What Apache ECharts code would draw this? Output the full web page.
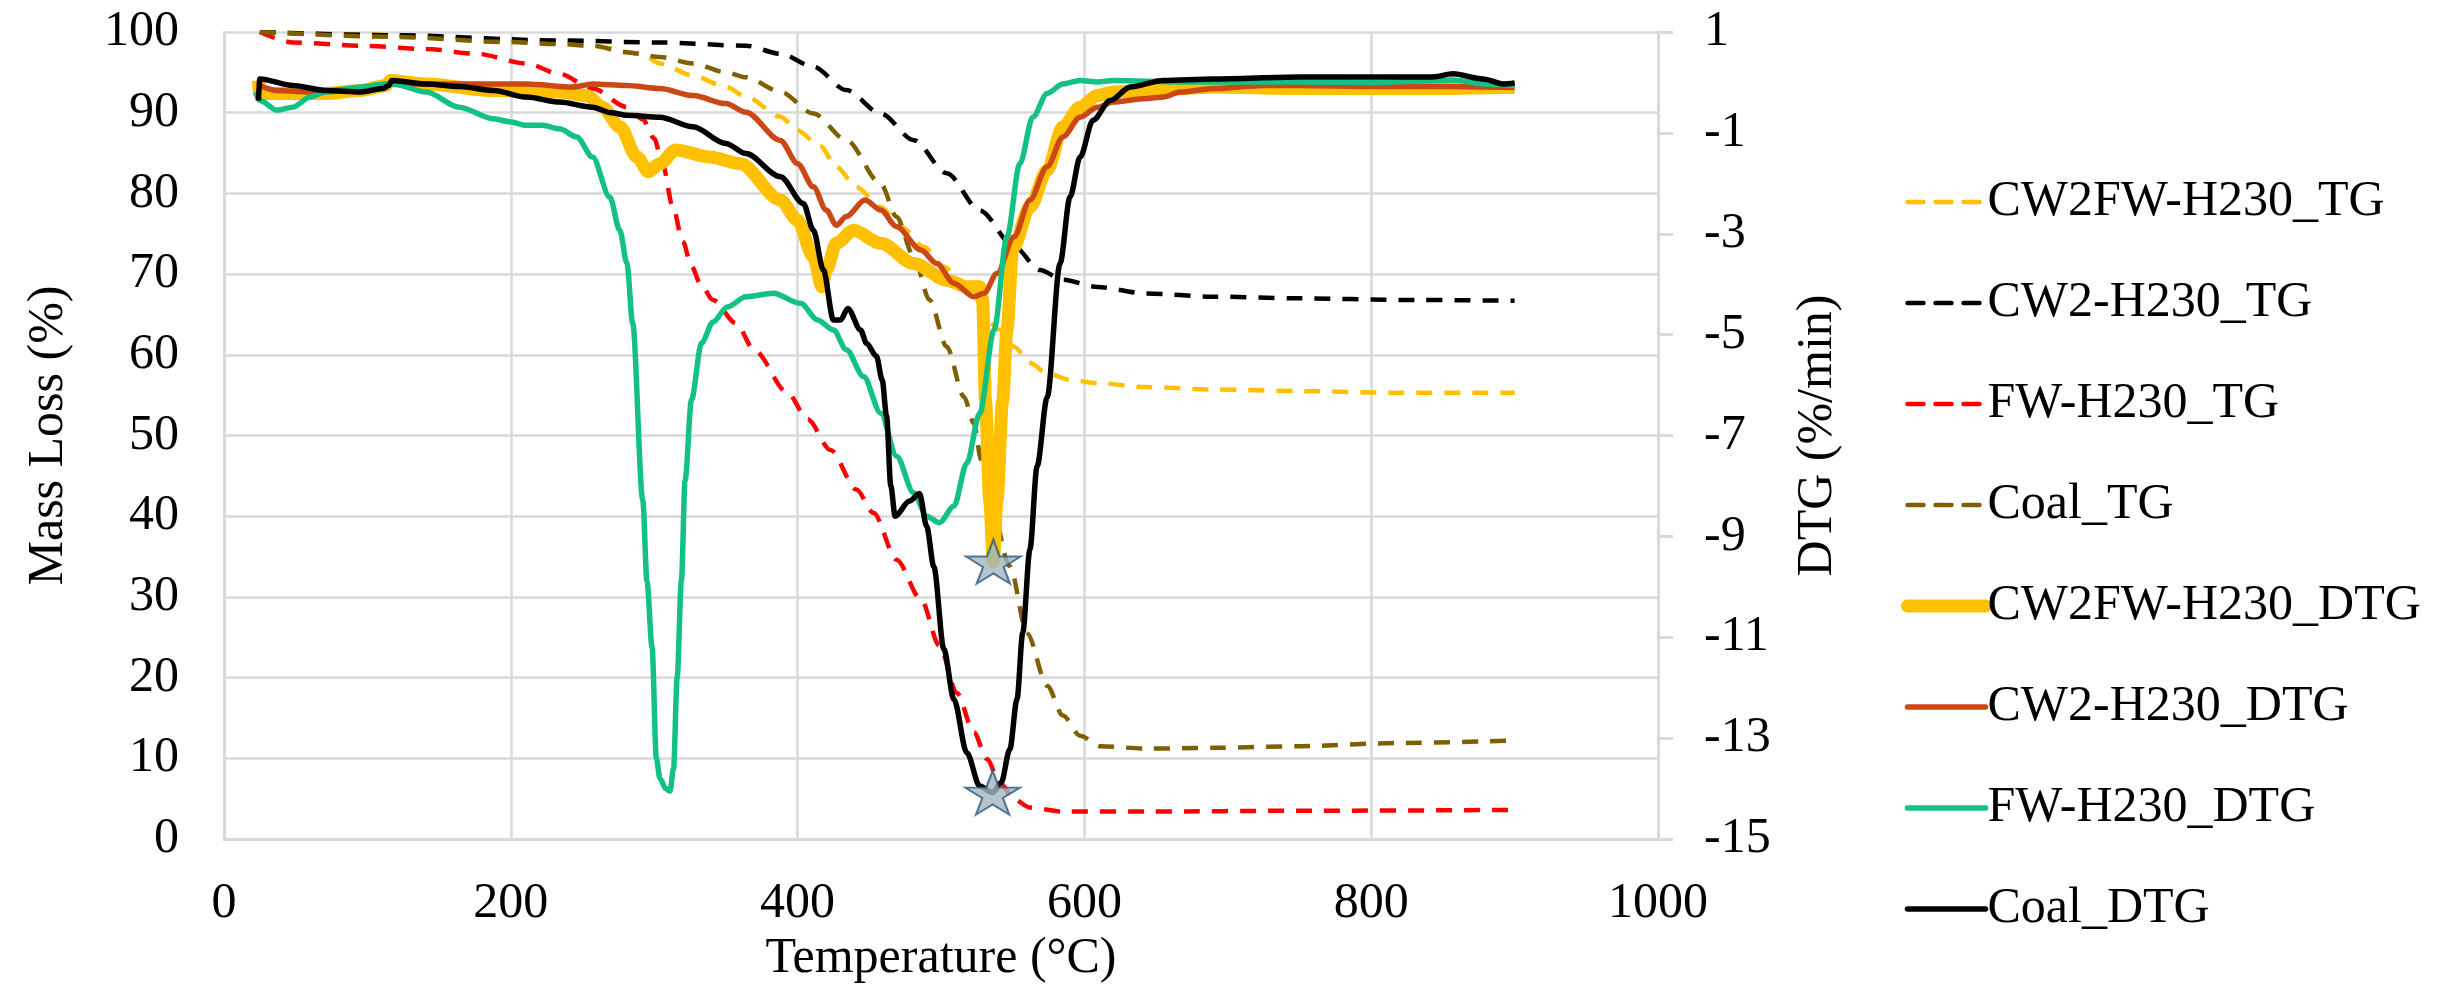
<!DOCTYPE html>
<html>
<head>
<meta charset="utf-8">
<title>TG / DTG</title>
<script src="https://cdn.jsdelivr.net/npm/echarts@6/dist/echarts.min.js"></script>
<style>
  html, body { margin: 0; padding: 0; background: #fff; }
  #chart { width: 2453px; height: 989px; }
</style>
</head>
<body>
<div id="chart"></div>
<script>
// axis ranges [min, max, step]
var tempAxis = [0, 1000, 200]
var massAxis = [0, 100, 10]
var dtgAxis = [-15, 1, 2]

var seriesNames = ['CW2FW-H230_TG', 'CW2-H230_TG', 'FW-H230_TG', 'Coal_TG',
  'CW2FW-H230_DTG', 'CW2-H230_DTG', 'FW-H230_DTG', 'Coal_DTG']

// TG curves: [temperature, mass loss %]
var cw2fwTG = [[25, 100], [100, 99.7], [160, 99.2], [234, 98.6], [260, 98.2], [291, 97.3], [304, 96.1], [327, 94.6],
  [350, 93.2], [364, 92.0], [388, 89.5], [400, 87.8], [416, 85.8], [427, 83.3], [441, 80.8], [458, 78.3], [472, 75.9],
  [488, 73.4], [502, 70.9], [520, 67.5], [541, 63.1], [551, 61.0], [562, 59.0], [574, 57.7], [590, 56.9], [609, 56.5],
  [643, 56.0], [690, 55.7], [750, 55.5], [820, 55.3], [900, 55.3]]

var cw2TG = [[25, 100], [118, 99.6], [234, 98.95], [304, 98.7], [364, 98.3], [388, 97.3], [411, 95.7], [434, 92.8],
  [458, 89.9], [481, 86.6], [504, 82.5], [527, 77.9], [551, 73.4], [569, 70.5], [585, 69.3], [609, 68.4], [643, 67.6],
  [690, 67.2], [750, 67.0], [820, 66.8], [900, 66.7]]

var fwTG = [[25, 100], [48, 98.7], [95, 98.3], [141, 97.9], [176, 97.3], [211, 96.1], [234, 94.8], [257, 93.0],
  [281, 90.7], [292, 89.2], [300, 86.8], [306, 83.5], [313, 78.3], [320, 74.0], [326, 71.0], [332, 68.9], [341, 66.8],
  [357, 63.9], [370, 60.5], [393, 55.3], [407, 52.0], [423, 48.2], [441, 43.3], [453, 40.4], [469, 34.6], [486, 29.7],
  [499, 23.9], [511, 18.1], [523, 13.2], [532, 9.9], [541, 7.0], [551, 4.9], [562, 3.9], [585, 3.4], [643, 3.4],
  [750, 3.5], [900, 3.6]]

var coalTG = [[25, 100], [118, 99.4], [199, 98.75], [234, 98.5], [257, 98.3], [280, 97.5], [304, 96.9], [327, 96.1],
  [350, 95.0], [364, 94.4], [388, 92.6], [411, 89.9], [434, 86.6], [458, 81.2], [469, 77.1], [481, 72.2], [492, 66.8],
  [504, 61.0], [516, 54.8], [523, 51.5], [528, 47.0], [532, 44.1], [548, 33.8], [560, 25.5], [574, 19.0], [585, 15.3],
  [597, 12.8], [611, 11.5], [643, 11.2], [690, 11.3], [750, 11.5], [820, 11.9], [900, 12.2]]

// DTG curves: [temperature, %/min]
var cw2fwDTG = [[24, 0.04], [25, -0.22], [48, -0.22], [71, -0.22], [95, -0.16], [113, -0.06], [116, 0.04], [141, -0.03],
  [188, -0.16], [234, -0.19], [253, -0.26], [264, -0.49], [276, -0.88], [288, -1.48], [296, -1.77], [304, -1.61],
  [315, -1.34], [339, -1.48], [360, -1.61], [388, -2.33], [400, -2.73], [411, -3.46], [417, -4.05], [420, -3.72],
  [427, -3.19], [439, -2.93], [458, -3.19], [481, -3.59], [504, -3.92], [518, -4.05], [527, -4.05], [529, -4.3],
  [531, -6.3], [534, -8.3], [536.5, -9.5], [539, -8.3], [543, -6.3], [546, -4.9], [550, -3.3], [562, -2.47],
  [574, -1.74], [585, -0.88], [597, -0.49], [609, -0.26], [620, -0.19], [643, -0.16], [690, -0.09], [750, -0.12],
  [800, -0.12], [850, -0.12], [890, -0.1], [900, -0.1]]

var cw2DTG = [[25, -0.06], [37, -0.16], [60, -0.19], [95, -0.12], [116, -0.03], [164, -0.03], [211, -0.03], [243, -0.09],
  [257, -0.03], [281, -0.06], [304, -0.12], [327, -0.26], [350, -0.42], [364, -0.59], [388, -1.15], [400, -1.61],
  [411, -2.07], [420, -2.53], [427, -2.83], [434, -2.66], [447, -2.33], [458, -2.53], [469, -2.86], [486, -3.32],
  [497, -3.59], [509, -3.98], [523, -4.25], [530, -4.18], [539, -3.79], [551, -3.06], [562, -2.33], [574, -1.67],
  [585, -1.08], [597, -0.69], [609, -0.49], [620, -0.39], [643, -0.32], [655, -0.29], [667, -0.19], [690, -0.12],
  [725, -0.06], [750, -0.06], [800, -0.08], [850, -0.08], [900, -0.1]]

var fwDTG = [[22, -0.19], [25, -0.36], [37, -0.55], [48, -0.49], [60, -0.29], [71, -0.19], [95, -0.09], [113, -0.03],
  [118, -0.03], [141, -0.19], [164, -0.49], [188, -0.72], [199, -0.78], [211, -0.85], [222, -0.85], [234, -0.92],
  [246, -1.08], [257, -1.48], [269, -2.27], [276, -2.93], [281, -3.59], [285, -4.78], [292, -8.27], [295, -9.9],
  [298.5, -11.2], [301.5, -13.4], [304, -13.8], [308, -14.0], [311, -14.05], [313.5, -13.6], [316, -11.8],
  [319, -9.86], [321.5, -7.9], [326, -6.29], [333, -5.17], [341, -4.75], [351, -4.45], [364, -4.25], [383, -4.18],
  [402, -4.38], [414, -4.71], [425, -4.91], [434, -5.3], [446, -5.83], [458, -6.56], [469, -7.41], [481, -8.14],
  [490, -8.6], [499, -8.73], [509, -8.4], [518, -7.55], [527, -6.56], [537, -4.91], [546, -3.06], [555, -1.61],
  [564, -0.69], [574, -0.22], [585, -0.03], [597, 0.04], [609, 0.01], [620, 0.04], [667, 0.01], [750, 0.01],
  [800, 0.0], [857, 0.05], [880, -0.03], [900, -0.06]]

var coalDTG = [[24, -0.36], [25, 0.07], [48, -0.06], [71, -0.16], [95, -0.19], [111, -0.12], [115, -0.06], [117, 0.04],
  [141, -0.03], [164, -0.08], [188, -0.16], [211, -0.29], [234, -0.39], [257, -0.49], [270, -0.6], [281, -0.65],
  [304, -0.69], [327, -0.88], [350, -1.21], [364, -1.41], [388, -1.87], [404, -2.4], [411, -2.93], [418, -3.72],
  [425, -4.71], [430, -4.71], [435, -4.48], [444, -4.91], [448, -5.17], [455, -5.43], [459, -5.9], [462, -6.6],
  [465, -8.0], [468, -8.6], [478, -8.3], [485, -8.15], [490, -8.8], [495, -9.6], [502, -11.24], [509, -12.23],
  [518, -13.29], [527, -13.95], [536, -14.08], [542, -13.88], [548, -13.22], [553, -12.23], [557, -10.91],
  [562, -9.26], [567, -7.61], [574, -6.25], [583, -3.59], [590, -2.27], [597, -1.48], [606, -0.75], [618, -0.36],
  [632, -0.09], [655, 0.04], [690, 0.07], [750, 0.11], [785, 0.11], [843, 0.11], [857, 0.17], [878, 0.07],
  [892, -0.03], [900, -0.01]]

var font = "'Liberation Serif', 'DejaVu Serif', serif"
var gridColor = '#D9D9D9'
var starPath = 'path://M50,0 L61,35 L98,35 L68,57 L79,91 L50,70 L21,91 L32,57 L2,35 L39,35 Z'
var colors = ['#FFC000', '#000000', '#FF0000', '#7F6000', '#FFC000', '#CC4716', '#14C185', '#000000']
var widths = [4.5, 4.5, 4.5, 4.5, 13, 5.5, 5.5, 5.5]

function minPoint(arr) {
  var m = arr[0]
  arr.forEach(function(p) {
    if (p[1] < m[1]) m = p
  })
  return m
}

function tgLine(i, data) {
  return {
    name: seriesNames[i],
    type: 'line',
    yAxisIndex: 0,
    data: data,
    symbol: 'none',
    smooth: 0.3,
    smoothMonotone: 'x',
    lineStyle: { color: colors[i], width: widths[i], type: [16, 12] },
    itemStyle: { color: colors[i] },
    z: 2
  }
}

function dtgLine(i, data) {
  return {
    name: seriesNames[i],
    type: 'line',
    yAxisIndex: 1,
    data: data,
    symbol: 'none',
    smooth: 0.3,
    smoothMonotone: 'x',
    lineStyle: { color: colors[i], width: widths[i] },
    itemStyle: { color: colors[i] },
    z: 3
  }
}

var legendData = seriesNames.map(function(name, i) {
  return {
    name: name,
    itemStyle: { opacity: 0 },
    lineStyle: { color: colors[i], width: widths[i], type: i < 4 ? [16, 12] : 'solid', cap: 'round' }
  }
})

var chart = echarts.init(document.getElementById('chart'))

var option = {
  animation: false,
  backgroundColor: '#ffffff',
  textStyle: { fontFamily: font, color: '#000' },
  grid: { left: 224, right: 795, top: 32, bottom: 149 },
  legend: {
    orient: 'vertical',
    left: 1896,
    top: 172,
    itemWidth: 78,
    itemHeight: 14,
    itemGap: 51,
    data: legendData,
    textStyle: { fontFamily: font, fontSize: 50, color: '#000', padding: [0, 0, 0, -3] }
  },
  xAxis: {
    type: 'value',
    min: tempAxis[0],
    max: tempAxis[1],
    interval: tempAxis[2],
    name: 'Temperature (°C)',
    nameLocation: 'middle',
    nameGap: 95,
    nameTextStyle: { fontFamily: font, fontSize: 50, color: '#000' },
    axisLine: { lineStyle: { color: gridColor, width: 3 } },
    axisTick: { show: false },
    axisLabel: {
      fontFamily: font, fontSize: 50, color: '#000', margin: 40,
      formatter: function(v) { return String(v) }
    },
    splitLine: { lineStyle: { color: gridColor, width: 2.5 } }
  },
  yAxis: [{
    type: 'value',
    min: massAxis[0],
    max: massAxis[1],
    interval: massAxis[2],
    name: 'Mass Loss (%)',
    nameLocation: 'middle',
    nameGap: 150,
    nameRotate: 90,
    nameTextStyle: { fontFamily: font, fontSize: 50, color: '#000' },
    axisLine: { show: true, lineStyle: { color: gridColor, width: 3 } },
    axisTick: { show: false },
    axisLabel: { fontFamily: font, fontSize: 50, color: '#000', margin: 45 },
    splitLine: { lineStyle: { color: gridColor, width: 2.5 } }
  }, {
    type: 'value',
    position: 'right',
    min: dtgAxis[0],
    max: dtgAxis[1],
    interval: dtgAxis[2],
    name: 'DTG (%/min)',
    nameLocation: 'middle',
    nameGap: 135,
    nameRotate: 90,
    nameTextStyle: { fontFamily: font, fontSize: 50, color: '#000' },
    axisLine: { show: true, lineStyle: { color: gridColor, width: 3 } },
    axisTick: { show: true, length: 15, lineStyle: { color: gridColor, width: 3 } },
    axisLabel: { fontFamily: font, fontSize: 50, color: '#000', margin: 46 },
    splitLine: { show: false }
  }],
  series: [
    tgLine(0, cw2fwTG),
    tgLine(1, cw2TG),
    tgLine(2, fwTG),
    tgLine(3, coalTG),
    dtgLine(4, cw2fwDTG),
    dtgLine(5, cw2DTG),
    dtgLine(6, fwDTG),
    dtgLine(7, coalDTG),
    {
      // peak markers
      type: 'scatter',
      yAxisIndex: 1,
      data: [minPoint(cw2fwDTG), minPoint(coalDTG)],
      symbol: starPath,
      symbolSize: [55, 44],
      itemStyle: { color: '#A3B6C2', borderColor: '#2E5A80', borderWidth: 2 },
      z: 5
    }
  ]
}

chart.setOption(option)
window.addEventListener('resize', function() {
  chart.resize()
})
</script>
</body>
</html>
